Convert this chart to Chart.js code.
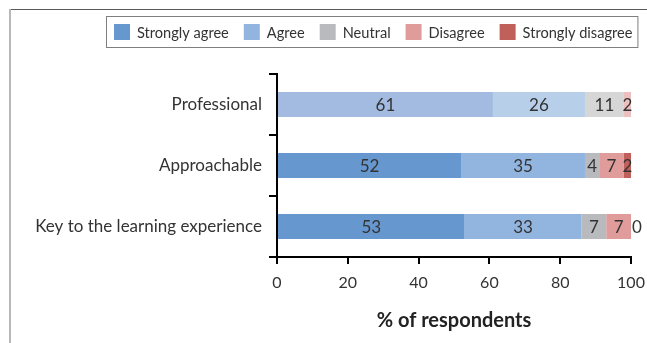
<!DOCTYPE html>
<html>
<head>
<meta charset="utf-8">
<script src="https://cdn.jsdelivr.net/npm/chart.js@4/dist/chart.umd.min.js"></script>
<style>
  html, body { margin: 0; padding: 0; background: #ffffff; }
  #wrap { position: relative; width: 647px; height: 343px; }
</style>
</head>
<body>
<div id="wrap"><canvas id="c" width="647" height="343"></canvas></div>
<script>
// ---- data ----
const categories = ['Professional', 'Approachable', 'Key to the learning experience'];
const seriesNames = ['Strongly agree', 'Agree', 'Neutral', 'Disagree', 'Strongly disagree'];
const stronglyAgree    = [61, 52, 53];
const agree            = [26, 35, 33];
const neutral          = [11, 4, 7];
const disagree         = [2, 7, 7];
const stronglyDisagree = [null, 2, 0];
const xTicks = [0, 20, 40, 60, 80, 100];

// ---- styling ----
const baseColors  = ['#6797cf', '#92b5e0', '#b9babd', '#df9c9a', '#c0605a'];
const fadedColors = ['#a3bbe0', '#b8cfea', '#d6d6d6', '#ecc0bf', '#dba5a1'];
const FONT = 'Lato, "Open Sans", sans-serif';
const TXT = '#333333';

const values = [stronglyAgree, agree, neutral, disagree, stronglyDisagree];
const datasets = seriesNames.map((name, i) => ({
  label: name,
  data: values[i],
  backgroundColor: categories.map((c, j) => j === 0 ? fadedColors[i] : baseColors[i]),
  borderWidth: 0,
  categoryPercentage: 1.0,
  barPercentage: 0.41
}));

const framePlugin = {
  id: 'frame',
  beforeDraw(chart) {
    const ctx = chart.ctx;
    ctx.save();
    ctx.fillStyle = '#ffffff';
    ctx.fillRect(0, 0, chart.width, chart.height);
    ctx.fillStyle = '#5a5a5a';
    ctx.fillRect(9, 9, chart.width - 9, 1);
    ctx.fillStyle = '#b8b8b8';
    ctx.fillRect(9, 9, 2, chart.height - 9);
    ctx.restore();
  }
};

const valueLabels = {
  id: 'valueLabels',
  afterDatasetsDraw(chart) {
    const ctx = chart.ctx;
    ctx.save();
    ctx.font = '17px ' + FONT;
    ctx.fillStyle = TXT;
    ctx.textAlign = 'center';
    ctx.textBaseline = 'middle';
    chart.data.datasets.forEach((ds, i) => {
      const meta = chart.getDatasetMeta(i);
      meta.data.forEach((el, j) => {
        const v = ds.data[j];
        if (v === null || v === undefined) return;
        const p = el.getCenterPoint();
        const dx = v === 0 ? 6 : 0;
        ctx.fillText(String(v), p.x + dx, p.y + 1);
      });
    });
    ctx.restore();
  }
};

const boxedLegend = {
  id: 'boxedLegend',
  afterDraw(chart) {
    const ctx = chart.ctx;
    ctx.save();
    ctx.font = '14.6px ' + FONT;
    ctx.textBaseline = 'middle';
    ctx.textAlign = 'left';
    const box = 16, gapText = 7, gapItem = 15;
    let x = 114;
    const yTop = 24;
    const startX = x;
    chart.data.datasets.forEach((ds, i) => {
      ctx.fillStyle = baseColors[i];
      ctx.fillRect(x, yTop, box, box);
      ctx.fillStyle = TXT;
      ctx.fillText(ds.label, x + box + gapText, yTop + box / 2 + 1);
      x += box + gapText + ctx.measureText(ds.label).width + gapItem;
    });
    const endX = x - gapItem + 6;
    ctx.strokeStyle = '#7f7f7f';
    ctx.lineWidth = 1;
    ctx.strokeRect(startX - 7.5, yTop - 7.5, endX - startX + 7, box + 15);
    ctx.restore();
  }
};

new Chart(document.getElementById('c'), {
  type: 'bar',
  data: { labels: categories, datasets },
  options: {
    indexAxis: 'y',
    responsive: false,
    animation: false,
    devicePixelRatio: 1,
    layout: { padding: { top: 74, right: 16, bottom: 0, left: 0 } },
    plugins: {
      legend: { display: false },
      tooltip: { enabled: false }
    },
    scales: {
      x: {
        stacked: true,
        min: 0, max: 100,
        afterBuildTicks(scale) { scale.ticks = xTicks.map(v => ({ value: v })); },
        afterFit(scale) { scale.height = 86; scale.paddingRight = 10; scale.paddingLeft = 0; },
        grid: { display: true, drawOnChartArea: false, drawTicks: true, tickLength: 7, color: '#000', lineWidth: 2 },
        border: { display: true, color: '#000', width: 2 },
        ticks: { font: { family: FONT, size: 16 }, color: TXT, padding: 9, maxRotation: 0 },
        title: { display: true, text: '% of respondents', font: { family: FONT, size: 20, weight: 'bold' }, color: '#222', padding: { top: 0, bottom: 10 } }
      },
      y: {
        stacked: true,
        afterFit(scale) { scale.width = 277; },
        grid: { display: true, drawOnChartArea: false, drawTicks: true, tickLength: 8, color: '#000', lineWidth: 2, offset: true },
        border: { display: true, color: '#000', width: 2 },
        ticks: { font: { family: FONT, size: 17 }, color: TXT, padding: 7 }
      }
    }
  },
  plugins: [framePlugin, valueLabels, boxedLegend]
});
</script>
</body>
</html>
